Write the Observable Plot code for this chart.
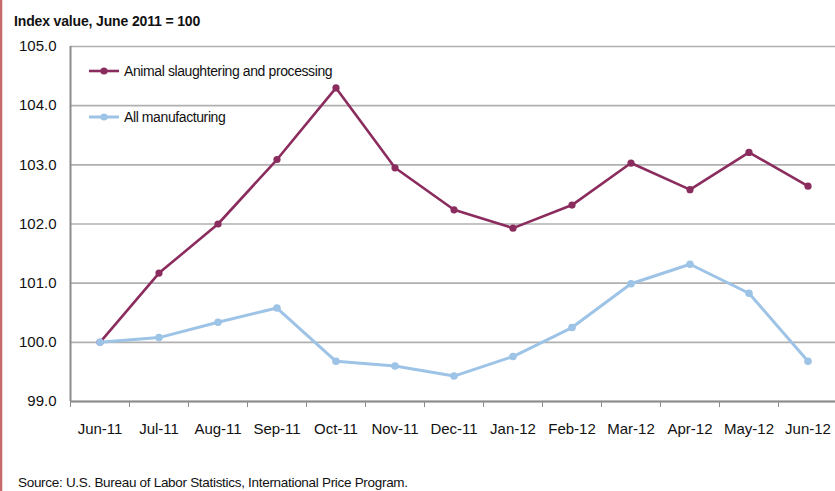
<!DOCTYPE html>
<html>
<head>
<meta charset="utf-8">
<script src="https://cdn.jsdelivr.net/npm/d3@7"></script>
<script src="https://cdn.jsdelivr.net/npm/@observablehq/plot@0.6"></script>
<style>
  html, body { margin: 0; padding: 0; background: #fff; }
  body { width: 835px; height: 491px; position: relative; overflow: hidden;
         font-family: "Liberation Sans Narrow", "Liberation Sans", "DejaVu Sans Condensed", sans-serif; color: #111; }
  #edge { position: absolute; left: 0; top: 0; width: 2px; height: 491px; background: #c46a6a; border-right: 1px solid #f3d6d6; }
  #title { position: absolute; left: 14px; top: 13px; font-weight: bold; font-size: 14px; letter-spacing: -0.15px; }
  #chart { position: absolute; left: 0; top: 0; }
  #source { position: absolute; left: 18px; top: 475px; font-size: 13.5px; letter-spacing: -0.3px; }
  .legend { position: absolute; left: 88px; font-size: 14px; letter-spacing: -0.4px; display: flex; align-items: center; }
  .legend svg { margin-right: 4px; }
</style>
</head>
<body>
<div id="edge"></div>
<div id="chart"></div>
<div id="title">Index value, June 2011 = 100</div>
<div id="legend"></div>
<div id="source">Source: U.S. Bureau of Labor Statistics, International Price Program.</div>
<script>
const months = ["Jun-11","Jul-11","Aug-11","Sep-11","Oct-11","Nov-11","Dec-11","Jan-12","Feb-12","Mar-12","Apr-12","May-12","Jun-12"];
const animal = [100.0, 101.17, 102.0, 103.09, 104.30, 102.95, 102.24, 101.93, 102.32, 103.03, 102.58, 103.21, 102.64];
const manufacturing = [100.0, 100.08, 100.34, 100.58, 99.68, 99.60, 99.43, 99.76, 100.25, 100.99, 101.32, 100.83, 99.68];
const yTicks = [99, 100, 101, 102, 103, 104, 105];
const seriesNames = ["Animal slaughtering and processing", "All manufacturing"];
const colors = ["#8b2c5e", "#9dc3e6"];

const idx = months.map((m, i) => i);
const boundaries = months.map((m, i) => i - 0.5).concat([months.length - 0.5]);
const animalData = animal.map((v, i) => ({i, v}));
const manufData = manufacturing.map((v, i) => ({i, v}));

const chart = Plot.plot({
  width: 835,
  height: 491,
  marginTop: 46,
  marginBottom: 90,
  marginLeft: 70,
  marginRight: 0,
  style: {fontFamily: '"Liberation Sans Narrow", "Liberation Sans", sans-serif', fontSize: "15px", color: "#111", background: "transparent"},
  x: {domain: [-0.5, months.length - 0.5], range: [70, 837], ticks: boundaries, tickSize: 6, tickFormat: () => "", label: null},
  y: {domain: [99, 105], ticks: yTicks, tickSize: 0, tickPadding: 14, tickFormat: d3.format(".1f"), label: null},
  marks: [
    Plot.ruleY(yTicks, {stroke: "#b0b0b0", strokeWidth: 1.6}),
    Plot.ruleX([-0.5], {y1: 99, y2: 105, stroke: "#8c8c8c", strokeWidth: 2}),
    Plot.ruleY([99], {stroke: "#8c8c8c", strokeWidth: 2}),
    Plot.text(idx, {x: d => d, text: d => months[d], frameAnchor: "bottom", dy: 32, fontSize: 15}),
    Plot.line(animalData, {x: "i", y: "v", stroke: colors[0], strokeWidth: 2.6}),
    Plot.dot(animalData, {x: "i", y: "v", r: 3.6, fill: colors[0]}),
    Plot.line(manufData, {x: "i", y: "v", stroke: colors[1], strokeWidth: 3}),
    Plot.dot(manufData, {x: "i", y: "v", r: 3.8, fill: colors[1]})
  ]
});
chart.querySelectorAll('[aria-label="x-axis tick"] path, [aria-label="x-axis"] path').forEach(p => p.setAttribute("stroke", "#8c8c8c"));
document.getElementById("chart").appendChild(chart);

const legend = document.getElementById("legend");
const legendTops = [60, 106];
seriesNames.forEach((name, k) => {
  const row = document.createElement("div");
  row.className = "legend";
  row.style.top = legendTops[k] + "px";
  row.innerHTML = `<svg width="32" height="22"><line x1="1" x2="31" y1="11" y2="11" stroke="${colors[k]}" stroke-width="${k ? 3 : 2.6}"/><circle cx="16" cy="11" r="3.6" fill="${colors[k]}"/></svg><span>${name}</span>`;
  legend.appendChild(row);
});
</script>
</body>
</html>
